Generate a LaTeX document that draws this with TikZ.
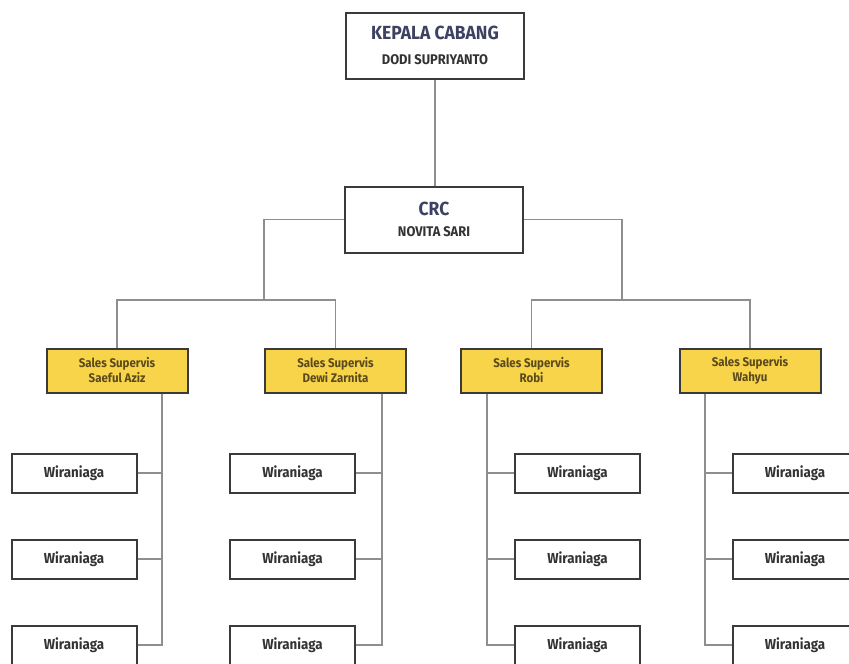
\documentclass[tikz,border=0pt]{standalone}
\usepackage{fontspec}
\setmainfont{Fira Sans}[FakeStretch=0.92]
\usepackage{xcolor}

\definecolor{kuning}{HTML}{F8D44A}
\definecolor{tinta}{HTML}{3D4262}
\definecolor{gelap}{HTML}{333333}
\definecolor{coklat}{HTML}{5A4A1C}
\definecolor{bingkai}{HTML}{3A3A3A}
\definecolor{abu}{HTML}{8E8E8E}

\begin{document}
\begin{tikzpicture}[
                     x = 1pt,
                     y = -1pt,
          kotak/.style = {draw=bingkai, line width=2pt, fill=white, align=center,
                          minimum width=178pt, minimum height=66pt, inner sep=0pt},
          sales/.style = {draw=bingkai, line width=2pt, fill=kuning, align=center,
                          minimum width=141pt, minimum height=44pt, inner sep=0pt,
                          text=coklat, font=\bfseries\fontsize{12.5}{15}\selectfont},
           wira/.style = {draw=bingkai, line width=2pt, fill=white,
                          minimum width=125pt, minimum height=39pt, inner sep=0pt,
                          text=gelap, font=\bfseries\fontsize{14.5}{16}\selectfont},
          garis/.style = {draw=abu, line width=1.4pt},
                     ]
\useasboundingbox (0,0) rectangle (849,664);
\clip (0,0) rectangle (849,664);

% pimpinan
\node[kotak] (kc) at (435,45.5)
    {{\bfseries\color{tinta}\fontsize{19}{22}\selectfont KEPALA CABANG}\\[13pt]
     {\bfseries\color{gelap}\fontsize{14}{16}\selectfont DODI SUPRIYANTO}};
\node[kotak] (crc) at (434,219.5)
    {{\bfseries\color{tinta}\fontsize{19}{22}\selectfont CRC}\\[9pt]
     {\bfseries\color{gelap}\fontsize{14}{16}\selectfont NOVITA SARI}};

% sales supervis
\node[sales] (ss1) at (117,370.5) {Sales Supervis\\Saeful Aziz};
\node[sales] (ss2) at (335.5,370.5) {Sales Supervis\\Dewi Zarnita};
\node[sales] (ss3) at (531.5,370.5) {Sales Supervis\\Robi};
\node[sales] (ss4) at (750,370.5) {Sales Supervis\\Wahyu};

\coordinate (kiri) at (264,300);
\coordinate (kanan) at (622,300);

\draw[garis] (kc.south) -- (kc.south |- crc.north);
\draw[garis] (crc.west) -| (kiri);
\draw[garis] (crc.east) -| (kanan);
\draw[garis] (ss1.north) |- (kiri) -| (ss2.north);
\draw[garis] (ss3.north) |- (kanan) -| (ss4.north);

% wiraniaga
\foreach \k/\cx/\tx/\sisi in {1/74/162/east, 2/292.5/382/east,
                              3/577.5/487/west, 4/795/705/west}{
    \coordinate (t\k) at (\tx,473);
    \foreach \j/\cy in {1/473, 2/559, 3/645}
        \node[wira] (w\k\j) at (\cx,\cy) {Wiraniaga};
    \draw[garis] (ss\k.south -| t\k) |- (w\k3.\sisi);
    \draw[garis] (w\k1.\sisi) -- (w\k1.\sisi -| t\k);
    \draw[garis] (w\k2.\sisi) -- (w\k2.\sisi -| t\k);
}
\end{tikzpicture}
\end{document}
